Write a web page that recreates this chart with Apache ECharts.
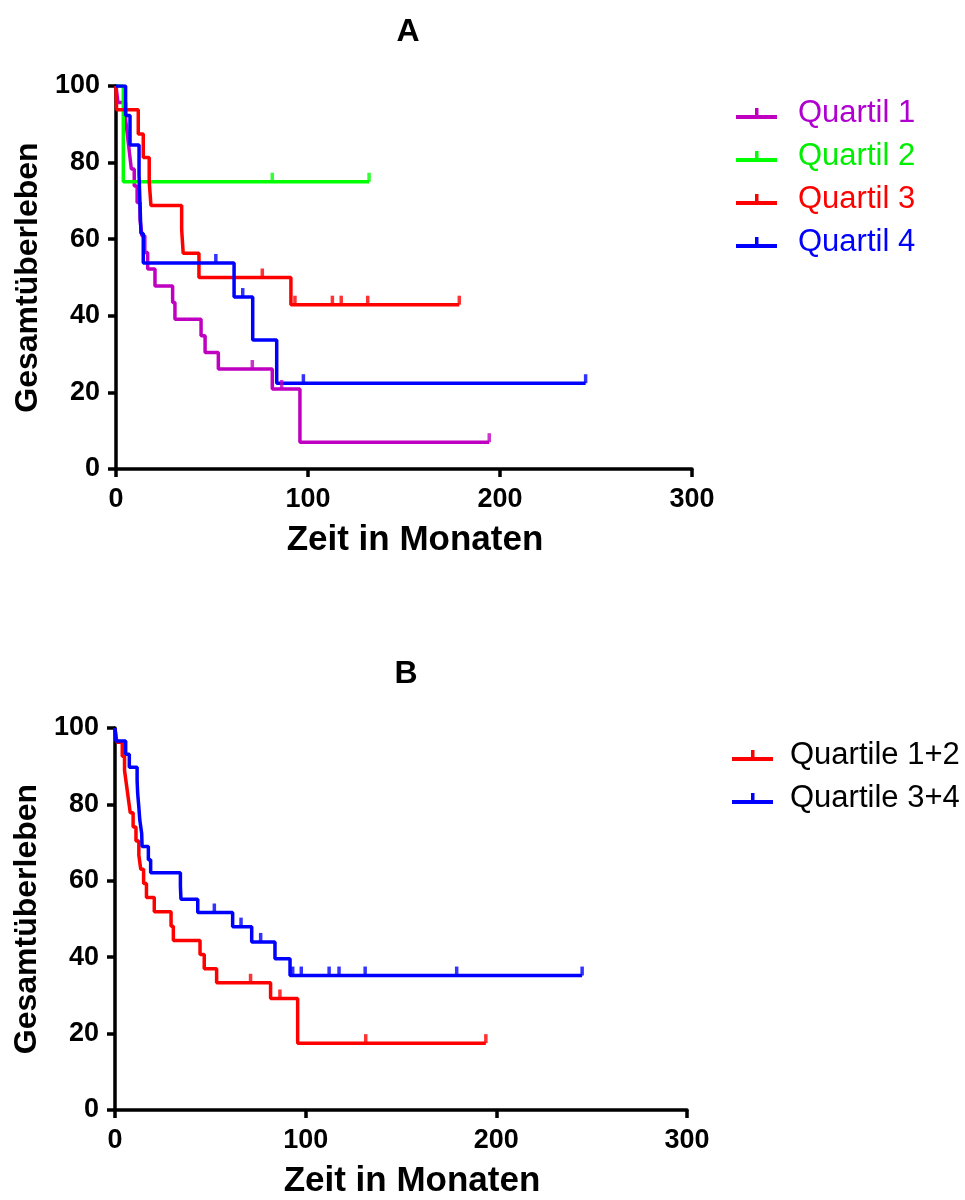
<!DOCTYPE html>
<html>
<head>
<meta charset="utf-8">
<script src="https://cdn.jsdelivr.net/npm/echarts@6/dist/echarts.min.js"></script>
<style>
html,body{margin:0;padding:0;background:#fff;}
#chart{width:965px;height:1200px;}
</style>
</head>
<body>
<div id="chart"></div>
<script>
// ---------- Data ----------
const xTicks = [0, 100, 200, 300];
const yTicks = [0, 20, 40, 60, 80, 100];

// Panel A
const q1Times  = [0, 1, 5, 6, 7, 8, 9.5, 11, 12.5, 13.5, 15, 16.5, 20.3, 29.5, 30.7, 44.3, 46.4, 53.3, 81.4, 95.8];
const q1Surv   = [100, 95.7, 91.3, 87.0, 82.6, 78.3, 73.9, 69.6, 65.2, 60.9, 56.5, 52.2, 47.8, 43.5, 39.1, 34.8, 30.4, 26.1, 20.9, 7.0];
const q1Censor = [71, 86.3, 194.4];

const q2Times  = [0, 3.8];
const q2Surv   = [100, 75];
const q2Censor = [81.4, 131.8];

const q3Times  = [0, 0.3, 11.6, 14.2, 17.3, 18.2, 34.2, 35, 43.2, 91.1];
const q3Surv   = [100, 93.8, 87.5, 81.3, 75, 68.8, 62.5, 56.3, 50, 42.9];
const q3Censor = [76.2, 93.2, 112.7, 117.3, 131.1, 178.8];

const q4Times  = [0, 5, 7.3, 12, 12.5, 13, 14.2, 61.5, 71.2, 83.7];
const q4Surv   = [100, 92.3, 84.6, 76.9, 69.2, 61.5, 53.8, 44.9, 33.7, 22.4];
const q4Censor = [52, 66, 97.6, 244.6];

// Panel B
const q12Times  = [0, 1, 3.8, 5, 6, 7, 8, 9.5, 11, 12.5, 13.5, 15, 16.5, 20.6, 29.4, 30.6, 44.6, 46.8, 53.3, 81.6, 95.8];
const q12Surv   = [100, 96.3, 92.6, 88.9, 85.2, 81.5, 77.8, 74.1, 70.4, 66.7, 63.0, 59.3, 55.6, 51.9, 48.1, 44.4, 40.7, 37.0, 33.3, 29.2, 17.5];
const q12Censor = [71.1, 86.5, 131.5, 194.5];

const q34Times  = [0, 0.5, 5.6, 7.5, 11.6, 11.9, 12.5, 13, 14, 14.2, 17.5, 18.7, 34.3, 34.6, 43.4, 61.7, 71.7, 83.9, 91.8];
const q34Surv   = [100, 96.6, 93.1, 89.7, 86.2, 82.8, 79.3, 75.9, 72.4, 69.0, 65.5, 62.1, 58.6, 55.2, 51.7, 48.0, 44.0, 39.6, 35.2];
const q34Censor = [52.1, 66.1, 76.4, 93.2, 97.7, 112.3, 117.5, 131.2, 179.2, 245];

const namesA = ['Quartil 1', 'Quartil 2', 'Quartil 3', 'Quartil 4'];
const namesB = ['Quartile 1+2', 'Quartile 3+4'];

// ---------- helpers ----------
function survAt(times, surv, t) {
  let s = surv[0];
  for (let i = 0; i < times.length; i++) { if (times[i] <= t) s = surv[i]; }
  return s;
}
function curve(times, surv, censor) {
  const end = Math.max(...censor, times[times.length - 1]);
  const d = times.map((t, i) => [t, surv[i]]);
  d.push([end, surv[surv.length - 1]]);
  return d;
}
function marks(times, surv, censor) {
  return censor.map(t => [t, survAt(times, surv, t)]);
}

const FONT = '"Liberation Sans", Arial, Helvetica, sans-serif';
const tickIcon = 'path://M0,7h41v4h-41z M19,0h3.5v7h-3.5z';

function lineSeries(name, data, color, idx) {
  return {
    name, type: 'line', step: 'end', data, xAxisIndex: idx, yAxisIndex: idx,
    showSymbol: false, symbol: 'none', lineStyle: { color, width: 3.5 }, itemStyle: { color },
    animation: false, z: 3
  };
}
function censorSeries(name, data, color, idx) {
  return {
    name, type: 'scatter', data, xAxisIndex: idx, yAxisIndex: idx,
    symbol: 'rect', symbolSize: [3.5, 9], symbolOffset: [0, -4.5],
    itemStyle: { color }, animation: false, z: 4, silent: true
  };
}

function xAxis(idx) {
  return {
    gridIndex: idx, type: 'value', min: xTicks[0], max: xTicks[xTicks.length - 1], interval: 100,
    name: 'Zeit in Monaten', nameLocation: 'middle', nameGap: 54,
    nameTextStyle: { fontFamily: FONT, fontWeight: 'bold', fontSize: 35, color: '#000', padding: [0, 0, 0, 22] },
    axisLine: { show: true, onZero: false, lineStyle: { color: '#000', width: 3.5 } },
    axisTick: { show: true, length: 8, lineStyle: { color: '#000', width: 3.5 } },
    axisLabel: { margin: 17, fontFamily: FONT, fontWeight: 'bold', fontSize: 27, color: '#000' },
    splitLine: { show: false }
  };
}
function yAxis(idx) {
  return {
    gridIndex: idx, type: 'value', min: yTicks[0], max: yTicks[yTicks.length - 1], interval: 20,
    name: 'Gesamtüberleben', nameLocation: 'middle', nameGap: 68, nameRotate: 90,
    nameTextStyle: { fontFamily: FONT, fontWeight: 'bold', fontSize: 32, color: '#000' },
    axisLine: { show: true, onZero: false, lineStyle: { color: '#000', width: 3.5 } },
    axisTick: { show: true, length: 8, lineStyle: { color: '#000', width: 3.5 } },
    axisLabel: { margin: 16, fontFamily: FONT, fontWeight: 'bold', fontSize: 27, color: '#000' },
    splitLine: { show: false }
  };
}

const colA = ['#C000C0', '#00FF00', '#FF0000', '#0000FF'];
const txtA = ['#B000D0', '#00EE00', '#FF0000', '#0000FF'];
const colB = ['#FF0000', '#0000FF'];

const dataA = [[q1Times, q1Surv, q1Censor], [q2Times, q2Surv, q2Censor], [q3Times, q3Surv, q3Censor], [q4Times, q4Surv, q4Censor]];
const dataB = [[q12Times, q12Surv, q12Censor], [q34Times, q34Surv, q34Censor]];

const series = [];
dataA.forEach((d, i) => series.push(lineSeries(namesA[i], curve(...d), colA[i], 0)));
dataA.forEach((d, i) => series.push(censorSeries(namesA[i] + ' c', marks(...d), colA[i], 0)));
dataB.forEach((d, i) => series.push(lineSeries(namesB[i], curve(...d), colB[i], 1)));
dataB.forEach((d, i) => series.push(censorSeries(namesB[i] + ' c', marks(...d), colB[i], 1)));

const option = {
  backgroundColor: '#fff',
  animation: false,
  title: [
    { text: 'A', left: 403, textAlign: 'center', top: 11, textStyle: { fontFamily: FONT, fontWeight: 'bold', fontSize: 32, color: '#000' } },
    { text: 'B', left: 401, textAlign: 'center', top: 653, textStyle: { fontFamily: FONT, fontWeight: 'bold', fontSize: 32, color: '#000' } }
  ],
  legend: [
    {
      orient: 'vertical', left: 731, top: 93, itemWidth: 41, itemHeight: 11, itemGap: 12,
      icon: tickIcon, selectedMode: false,
      data: namesA.map((n, i) => ({ name: n, textStyle: { color: txtA[i] } })),
      textStyle: { fontFamily: FONT, fontSize: 31, padding: [0, 0, 0, 16] }
    },
    {
      orient: 'vertical', left: 727, top: 735, itemWidth: 41, itemHeight: 11, itemGap: 12,
      icon: tickIcon, selectedMode: false,
      data: namesB.map(n => ({ name: n })),
      textStyle: { fontFamily: FONT, fontSize: 31, color: '#000', padding: [0, 0, 0, 12] }
    }
  ],
  grid: [
    { left: 116, top: 86, width: 576, height: 383 },
    { left: 115, top: 728, width: 572, height: 383 }
  ],
  xAxis: [xAxis(0), xAxis(1)],
  yAxis: [yAxis(0), yAxis(1)],
  series
};

const chart = echarts.init(document.getElementById('chart'), null, { renderer: 'canvas' });
chart.setOption(option);
</script>
</body>
</html>
